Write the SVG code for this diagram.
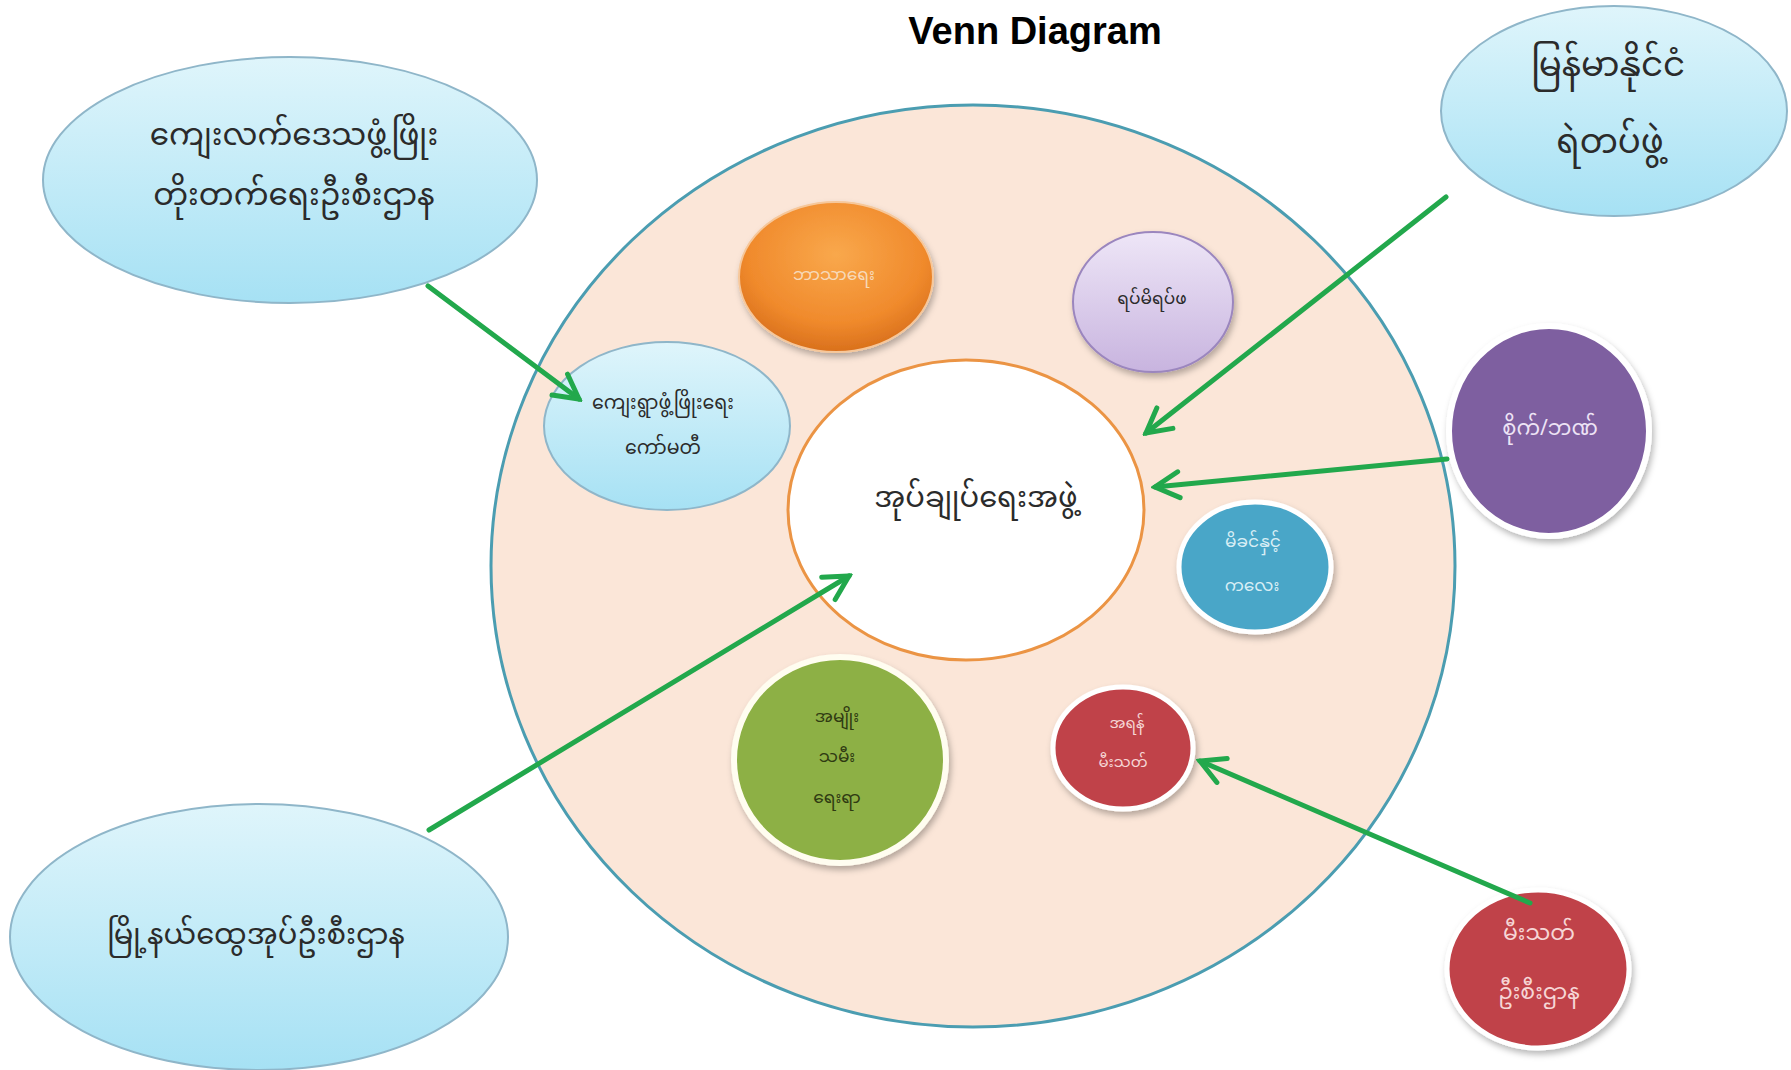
<svg xmlns="http://www.w3.org/2000/svg" width="1791" height="1070" viewBox="0 0 1791 1070">
  <style>
    .my { font-family: "Noto Sans Myanmar", "Padauk", "Myanmar Text", "Noto Sans", "DejaVu Sans", sans-serif; text-anchor: middle; dominant-baseline: central; }
    .dark { fill: #2b2b2b; }
    .conn { stroke: #22A84C; stroke-width: 5; fill: none; stroke-linecap: round; }
    .title { font-family: "Liberation Sans", Arial, sans-serif; font-weight: bold; font-size: 38px; fill: #000; text-anchor: middle; }
  </style>
  <defs>
    <linearGradient id="blueGrad" x1="0" y1="0" x2="0" y2="1">
      <stop offset="0" stop-color="#DFF5FB"/>
      <stop offset="1" stop-color="#A6E1F4"/>
    </linearGradient>
    <radialGradient id="orangeGrad" cx="0.5" cy="0.35" r="0.65">
      <stop offset="0" stop-color="#F9A84C"/>
      <stop offset="0.7" stop-color="#F08A2C"/>
      <stop offset="1" stop-color="#D9701C"/>
    </radialGradient>
    <linearGradient id="lavGrad" x1="0" y1="0" x2="0" y2="1">
      <stop offset="0" stop-color="#EEE6F7"/>
      <stop offset="1" stop-color="#C8B4DF"/>
    </linearGradient>
    <filter id="shadow" x="-20%" y="-20%" width="140%" height="140%">
      <feDropShadow dx="2" dy="4" stdDeviation="3" flood-color="#000" flood-opacity="0.28"/>
    </filter>
    <marker id="arrow" markerUnits="userSpaceOnUse" markerWidth="34" markerHeight="34" viewBox="0 0 34 34" refX="30" refY="17" orient="auto">
      <path d="M6,4 L30,17 L6,30" fill="none" stroke="#22A84C" stroke-width="5" stroke-linecap="round" stroke-linejoin="miter"/>
    </marker>
  </defs>

  <rect width="1791" height="1070" fill="#FFFFFF"/>

  <text class="title" x="1035" y="44">Venn Diagram</text>

  <g id="outer-circle">
    <ellipse cx="973" cy="566" rx="482" ry="461" fill="#FBE6D8" stroke="#4B9DB1" stroke-width="3"/>
  </g>

  <g id="center-node">
    <ellipse cx="966" cy="510" rx="178" ry="150" fill="#FFFFFF" stroke="#EB9444" stroke-width="3"/>
    <text class="my dark" x="976" y="500" font-size="29">အုပ်ချုပ်ရေးအဖွဲ့</text>
  </g>

  <g id="religion">
    <ellipse cx="836" cy="277" rx="97" ry="75" fill="url(#orangeGrad)" stroke="#F6C79A" stroke-width="2" filter="url(#shadow)"/>
    <text class="my" x="834" y="276" font-size="17" fill="#F7D9B8">ဘာသာရေး</text>
  </g>

  <g id="elders">
    <ellipse cx="1153" cy="302" rx="80" ry="70" fill="url(#lavGrad)" stroke="#9B86BE" stroke-width="2" filter="url(#shadow)"/>
    <text class="my dark" x="1152" y="300" font-size="17">ရပ်မိရပ်ဖ</text>
  </g>

  <g id="village-committee">
    <ellipse cx="667" cy="426" rx="123" ry="84" fill="url(#blueGrad)" stroke="#8FB6C9" stroke-width="2"/>
    <text class="my dark" x="663" y="404" font-size="19">ကျေးရွာဖွံ့ဖြိုးရေး</text>
    <text class="my dark" x="663" y="449" font-size="19">ကော်မတီ</text>
  </g>

  <g id="mother-child">
    <ellipse cx="1255" cy="567" rx="76" ry="65" fill="#4AA6C8" stroke="#FFFFFF" stroke-width="5" filter="url(#shadow)"/>
    <text class="my" x="1253" y="543" font-size="17" fill="#D8EEF5">မိခင်နှင့်</text>
    <text class="my" x="1252" y="587" font-size="17" fill="#D8EEF5">ကလေး</text>
  </g>

  <g id="women-affairs">
    <ellipse cx="840" cy="760" rx="106" ry="103" fill="#8DB044" stroke="#FFFDF0" stroke-width="6" filter="url(#shadow)"/>
    <text class="my" x="837" y="718" font-size="17" fill="#2F3A12">အမျိုး</text>
    <text class="my" x="837" y="758" font-size="17" fill="#2F3A12">သမီး</text>
    <text class="my" x="837" y="799" font-size="17" fill="#2F3A12">ရေးရာ</text>
  </g>

  <g id="reserve-fire">
    <ellipse cx="1123" cy="748" rx="70" ry="61" fill="#C0434A" stroke="#FFFFFF" stroke-width="5" filter="url(#shadow)"/>
    <text class="my" x="1127" y="724" font-size="15" fill="#F6D6D6">အရန်</text>
    <text class="my" x="1123" y="763" font-size="15" fill="#F6D6D6">မီးသတ်</text>
  </g>

  <g id="agri-bank">
    <ellipse cx="1549" cy="431" rx="100" ry="105" fill="#7E5EA0" stroke="#FFFFFF" stroke-width="6" filter="url(#shadow)"/>
    <text class="my" x="1550" y="430" font-size="21" fill="#EDE3F5">စိုက်/ဘဏ်</text>
  </g>

  <g id="fire-dept">
    <ellipse cx="1538" cy="969" rx="91" ry="79" fill="#C0434A" stroke="#FFFFFF" stroke-width="5" filter="url(#shadow)"/>
    <text class="my" x="1539" y="935" font-size="22" fill="#F6D6D6">မီးသတ်</text>
    <text class="my" x="1539" y="994" font-size="22" fill="#F6D6D6">ဦးစီးဌာန</text>
  </g>

  <g id="rural-dev">
    <ellipse cx="290" cy="180" rx="247" ry="123" fill="url(#blueGrad)" stroke="#8FB6C9" stroke-width="2"/>
    <text class="my dark" x="294" y="138" font-size="31">ကျေးလက်ဒေသဖွံ့ဖြိုး</text>
    <text class="my dark" x="294" y="198" font-size="31">တိုးတက်ရေးဦးစီးဌာန</text>
  </g>

  <g id="police">
    <ellipse cx="1614" cy="111" rx="173" ry="105" fill="url(#blueGrad)" stroke="#8FB6C9" stroke-width="2"/>
    <text class="my dark" x="1608" y="68" font-size="34">မြန်မာနိုင်ငံ</text>
    <text class="my dark" x="1610" y="145" font-size="34">ရဲတပ်ဖွဲ့</text>
  </g>

  <g id="gad">
    <ellipse cx="259" cy="937" rx="249" ry="133" fill="url(#blueGrad)" stroke="#8FB6C9" stroke-width="2"/>
    <text class="my dark" x="256" y="937" font-size="29">မြို့နယ်ထွေအုပ်ဦးစီးဌာန</text>
  </g>

  <g id="connectors">
    <line class="conn" x1="428" y1="286" x2="579" y2="399" marker-end="url(#arrow)"/>
    <line class="conn" x1="1446" y1="197" x2="1146" y2="433" marker-end="url(#arrow)"/>
    <line class="conn" x1="1447" y1="459" x2="1155" y2="487" marker-end="url(#arrow)"/>
    <line class="conn" x1="429" y1="830" x2="849" y2="576" marker-end="url(#arrow)"/>
    <line class="conn" x1="1530" y1="903" x2="1200" y2="761" marker-end="url(#arrow)"/>
  </g>
</svg>
